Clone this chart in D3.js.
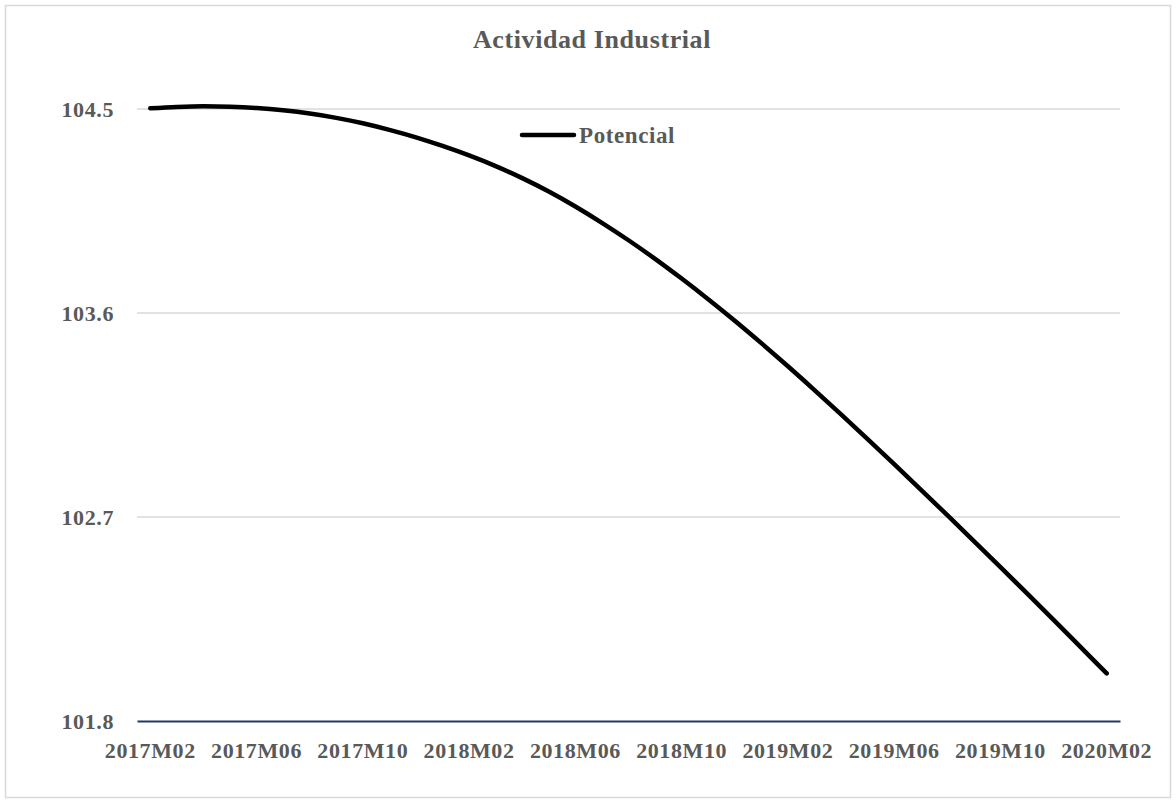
<!DOCTYPE html>
<html lang="es">
<head>
    <meta charset="UTF-8">
    <title>Actividad Industrial</title>
    <script src="https://d3js.org/d3.v7.min.js"></script>
    <style>
        body { margin: 0; background: #fff; }
        text { font-family: "Liberation Serif", "DejaVu Serif", serif; font-weight: bold; fill: #595959; letter-spacing: 0.6px; }
    </style>
</head>
<body>
<script>
    // months 2017M02 .. 2020M02
    var months = [];
    for (var y = 2017; y <= 2020; y++) {
        for (var m = 1; m <= 12; m++) {
            if ((y === 2017 && m < 2) || (y === 2020 && m > 2)) continue;
            months.push(y + "M" + (m < 10 ? "0" + m : m));
        }
    }

    var potencial = [
        104.503, 104.509, 104.512, 104.510, 104.504, 104.494, 104.480, 104.461, 104.437, 104.408,
        104.375, 104.337, 104.295, 104.248, 104.195, 104.136, 104.070, 103.998, 103.921, 103.839,
        103.752, 103.661, 103.566, 103.467, 103.365, 103.260, 103.153, 103.044, 102.933, 102.821,
        102.708, 102.594, 102.479, 102.363, 102.246, 102.128, 102.010
    ];

    var yTicks = [101.8, 102.7, 103.6, 104.5];
    var xTickLabels = ["2017M02","2017M06","2017M10","2018M02","2018M06","2018M10","2019M02","2019M06","2019M10","2020M02"];

    var width = 1176, height = 803;
    var margin = {top: 109, right: 56, bottom: 82, left: 137};

    var svg = d3.select("body").append("svg")
        .attr("width", width)
        .attr("height", height);

    // chart border
    svg.append("rect")
        .attr("x", 5.5).attr("y", 5.5)
        .attr("width", width - 11).attr("height", height - 11)
        .attr("fill", "none")
        .attr("stroke", "#d9d9d9")
        .attr("stroke-width", 1.5);

    var xScale = d3.scaleBand()
        .domain(months)
        .range([margin.left, width - margin.right]);

    var yScale = d3.scaleLinear()
        .domain([101.8, 104.5])
        .range([height - margin.bottom, margin.top]);

    // gridlines
    svg.append("g")
        .selectAll("line")
        .data(yTicks.slice(1))
        .enter().append("line")
        .attr("x1", margin.left)
        .attr("x2", width - margin.right)
        .attr("y1", d => yScale(d))
        .attr("y2", d => yScale(d))
        .attr("stroke", "#d9d9d9")
        .attr("stroke-width", 1.5);

    // y labels
    var yAxis = svg.append("g")
        .attr("transform", "translate(" + (margin.left - 23) + ",0)")
        .call(d3.axisLeft(yScale).tickValues(yTicks).tickSize(0).tickPadding(0).tickFormat(d3.format(".1f")));
    yAxis.select(".domain").remove();
    yAxis.selectAll("text").style("font-size", "22px").attr("fill", "#595959");

    // x axis
    var xAxis = svg.append("g")
        .attr("transform", "translate(0," + (height - margin.bottom) + ")")
        .call(d3.axisBottom(xScale).tickValues(xTickLabels).tickSize(0).tickPadding(21));
    xAxis.select(".domain")
        .attr("stroke", "#1f3864")
        .attr("stroke-width", 2);
    xAxis.selectAll("text").style("font-size", "22px").attr("fill", "#595959");

    // line
    var line = d3.line()
        .x((d, i) => xScale(months[i]) + xScale.bandwidth() / 2)
        .y(d => yScale(d))
        .curve(d3.curveMonotoneX);

    svg.append("path")
        .datum(potencial)
        .attr("fill", "none")
        .attr("stroke", "#000")
        .attr("stroke-width", 4.5)
        .attr("stroke-linecap", "round")
        .attr("stroke-linejoin", "round")
        .attr("d", line);

    // title
    svg.append("text")
        .attr("x", width / 2 + 4)
        .attr("y", 48)
        .attr("text-anchor", "middle")
        .style("font-size", "26px")
        .text("Actividad Industrial");

    // legend
    var legend = svg.append("g").attr("transform", "translate(522,135)");
    legend.append("line")
        .attr("x1", 0).attr("x2", 52)
        .attr("stroke", "#000")
        .attr("stroke-width", 4.5)
        .attr("stroke-linecap", "round");
    legend.append("text")
        .attr("x", 57)
        .attr("y", 8)
        .style("font-size", "23px")
        .text("Potencial");
</script>
</body>
</html>
